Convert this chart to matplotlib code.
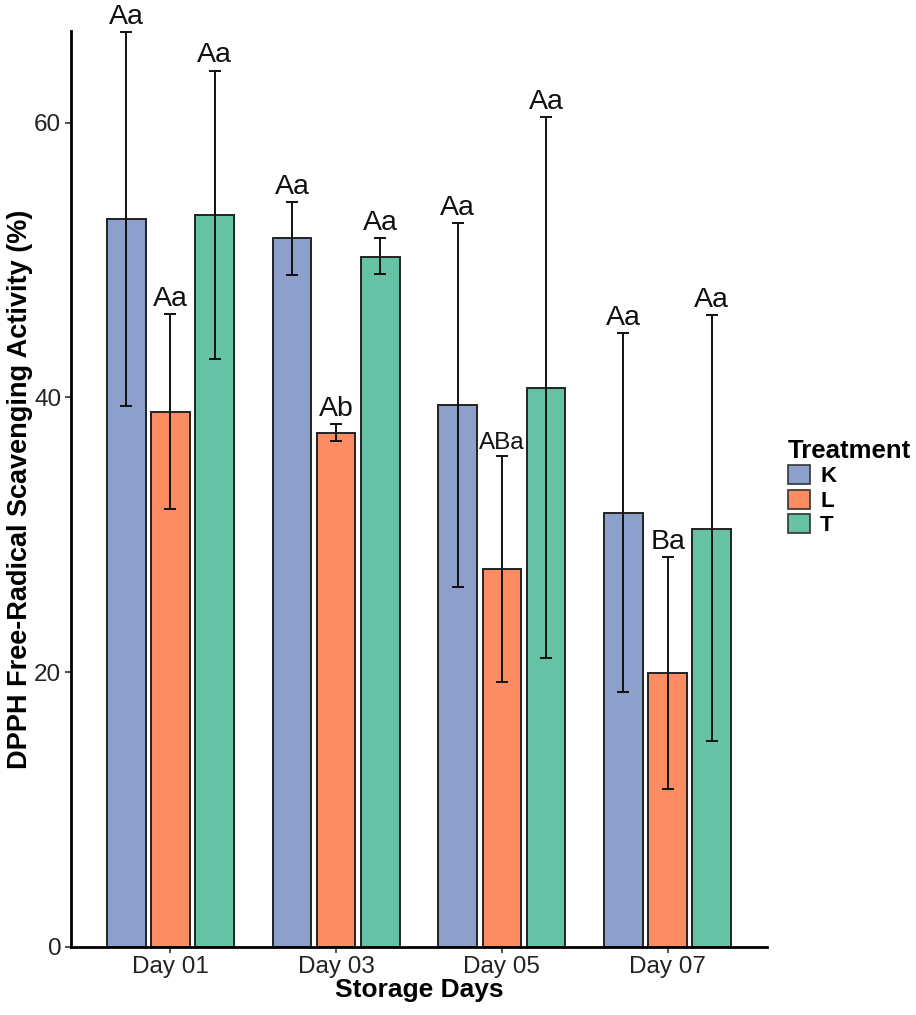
import matplotlib
matplotlib.use("Agg")
import matplotlib.pyplot as plt
from matplotlib.patches import Patch
import numpy as np

plt.rcParams['font.family'] = ['Liberation Sans', 'DejaVu Sans']

days = ["Day 01", "Day 03", "Day 05", "Day 07"]
treatments = ["K", "L", "T"]
colors = {"K": "#8DA0CB", "L": "#FC8D62", "T": "#66C2A5"}

means = {
    "K": [53.0, 51.6, 39.45, 31.6],
    "L": [38.96, 37.43, 27.48, 19.95],
    "T": [53.3, 50.24, 40.7, 30.44],
}
err_hi = {
    "K": [66.6, 54.2, 52.7, 44.66],
    "L": [46.1, 38.06, 35.7, 28.4],
    "T": [63.8, 51.58, 60.4, 45.98],
}
err_lo = {
    "K": [39.4, 48.9, 26.2, 18.52],
    "L": [31.85, 36.82, 19.27, 11.48],
    "T": [42.8, 48.98, 21.0, 14.96],
}
letters = {
    "K": ["Aa", "Aa", "Aa", "Aa"],
    "L": ["Aa", "Ab", "ABa", "Ba"],
    "T": ["Aa", "Aa", "Aa", "Aa"],
}

fig = plt.figure(figsize=(9.16, 10.15), dpi=100)
ax = fig.add_axes([71/916, 1 - 946.7/1015, (767 - 71)/916, (946.7 - 31)/1015])

x = np.arange(1, len(days) + 1)
dodge = 0.8 / 3
width = 0.7 / 3

for i, t in enumerate(treatments):
    xi = x + (i - 1) * dodge
    m = np.array(means[t])
    hi = np.array(err_hi[t])
    lo = np.array(err_lo[t])
    ax.bar(xi, m, width=width, color=colors[t], edgecolor="#222222", linewidth=1.4, zorder=2)
    ax.errorbar(xi, m, yerr=[m - lo, hi - m], fmt="none", ecolor="#111111",
                elinewidth=1.4, capsize=4.5, capthick=1.4, zorder=3)
    for xx, h, lab in zip(xi, hi, letters[t]):
        ax.annotate(lab, (xx, h), xytext=(0, 1.5), textcoords="offset points",
                    ha="center", va="bottom", fontsize=20.5 if lab != "ABa" else 17.5,
                    color="#111111", annotation_clip=False, zorder=4)

ax.set_xlim(0.4, 4.6)
ax.set_ylim(0, 66.68)
ax.set_xticks(x)
ax.set_xticklabels(days, fontsize=17.5, color="#222222")
ax.set_yticks([0, 20, 40, 60])
ax.set_yticklabels(["0", "20", "40", "60"], fontsize=17.5, color="#222222")
ax.tick_params(axis="both", length=4, width=1.2, colors="#333333", pad=3)
ax.tick_params(axis="x", labelcolor="#222222")
ax.tick_params(axis="y", labelcolor="#222222")

for s in ["top", "right"]:
    ax.spines[s].set_visible(False)
for s in ["left", "bottom"]:
    ax.spines[s].set_linewidth(2)
    ax.spines[s].set_color("black")

ax.set_xlabel("Storage Days", fontsize=19, fontweight="bold", labelpad=0)
ax.set_ylabel("DPPH Free-Radical Scavenging Activity (%)", fontsize=19.5, fontweight="bold", labelpad=1)

handles = [Patch(facecolor=colors[t], edgecolor="#333333", linewidth=1.2, label=t) for t in treatments]
leg = fig.legend(handles=handles, title="Treatment", loc="upper left",
                 bbox_to_anchor=(788/916, 1 - 439/1015), frameon=False,
                 prop={"weight": "bold", "size": 16},
                 title_fontproperties={"weight": "bold", "size": 18.5},
                 handlelength=1.0, handleheight=0.95, labelspacing=0.1,
                 handletextpad=0.45, borderpad=0, borderaxespad=0, alignment="left")

fig.savefig("out.png", dpi=100, facecolor="white")
